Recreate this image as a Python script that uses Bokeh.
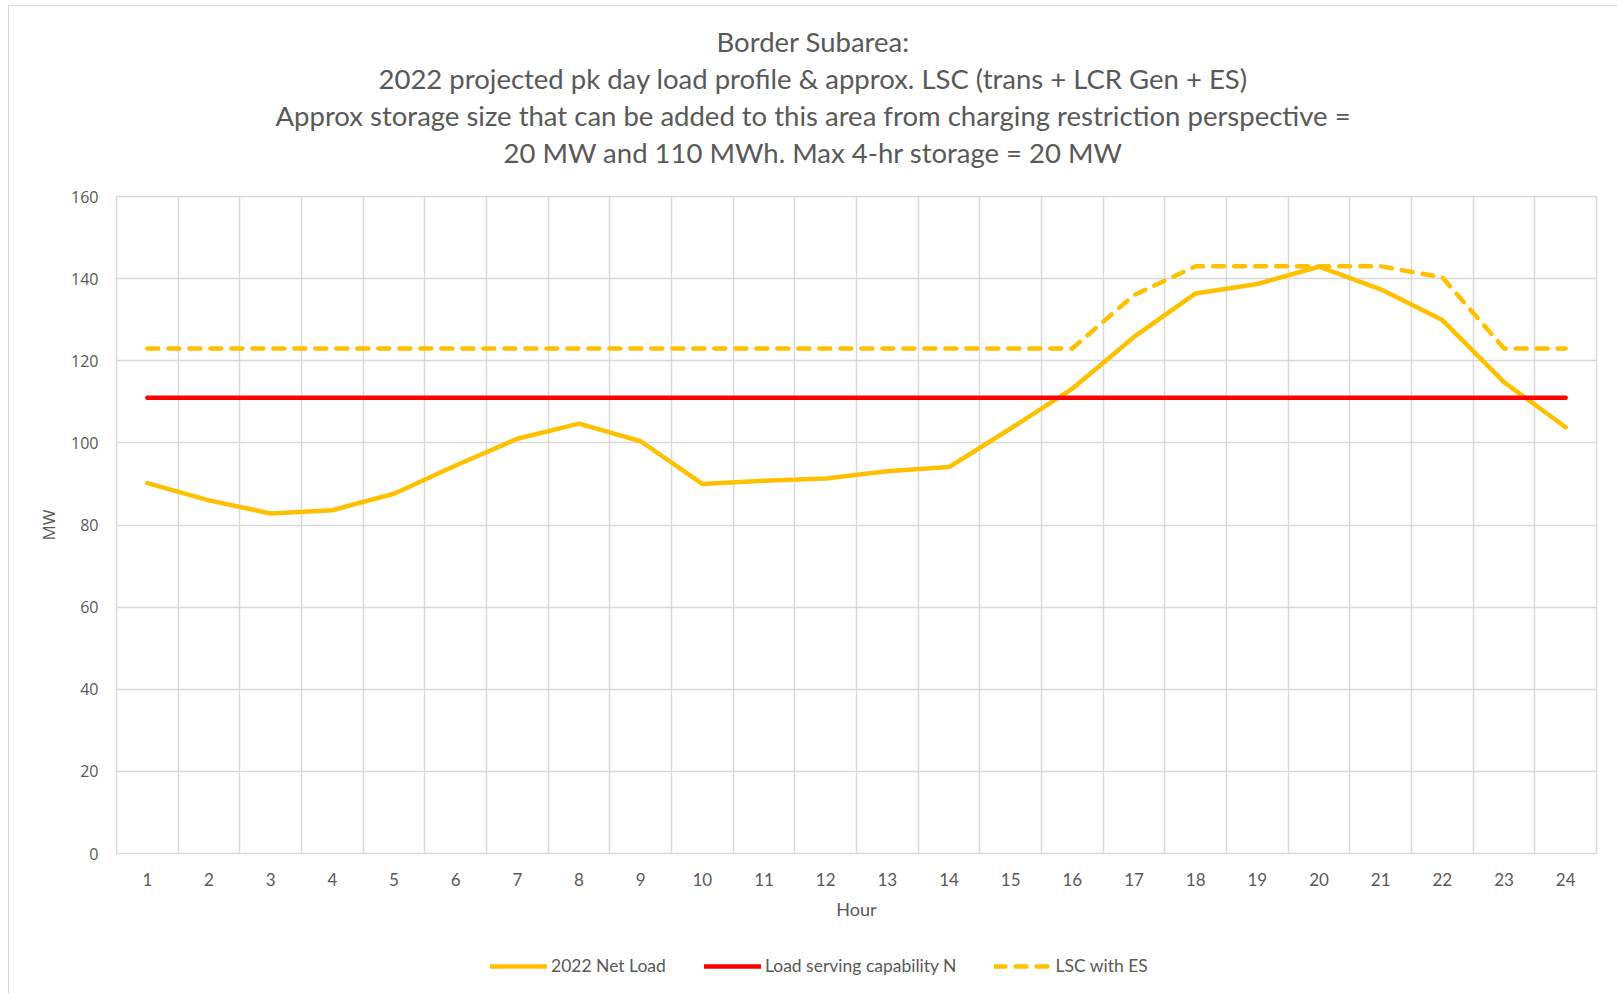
from bokeh.plotting import figure
from bokeh.layouts import column
from bokeh.models import Range1d, FixedTicker, Legend, LegendItem, Title
from bokeh.embed import file_html
from bokeh.resources import INLINE

hours = list(range(1, 25))
net_load = [90.2, 86.0, 82.8, 83.6, 87.6, 94.5, 101.0, 104.7, 100.4, 90.0, 90.8, 91.3,
            93.1, 94.1, 103.5, 113.2, 125.8, 136.4, 138.7, 142.9, 137.4, 129.9, 114.8, 103.8]
lsc_n = [111.0] * 24
lsc_es = [123.0] * 16 + [136.0, 143.0, 143.0, 143.0, 143.0, 140.3, 123.0, 123.0]
title_lines = ["Border Subarea:",
               "2022 projected pk day load profile & approx. LSC (trans + LCR Gen + ES)",
               "Approx storage size that can be added to this area from charging restriction perspective =",
               "20 MW and 110 MWh. Max 4-hr storage = 20 MW"]
series_names = ["2022 Net Load", "Load serving capability N", "LSC with ES"]

FONT = "Lato"
TXT = "#595959"
GRID = "#d9d9d9"
ORANGE = "#FFC000"
RED = "#FF0000"

p = figure(width=1608, height=918, output_backend="svg", toolbar_location=None,
           x_range=Range1d(0.5, 24.5), y_range=Range1d(0, 160),
           min_border_left=107, min_border_right=21, min_border_top=190, min_border_bottom=71)
p.outline_line_color = GRID
p.outline_line_width = 1.5

p.xaxis.ticker = FixedTicker(ticks=hours)
p.yaxis.ticker = FixedTicker(ticks=list(range(0, 161, 20)))
p.xgrid.ticker = FixedTicker(ticks=[h + 0.5 for h in range(0, 25)])
p.ygrid.ticker = FixedTicker(ticks=list(range(0, 161, 20)))
for g in (p.xgrid, p.ygrid):
    g.grid_line_color = GRID
    g.grid_line_width = 1.5

for ax in (p.xaxis, p.yaxis):
    ax.axis_line_color = None
    ax.major_tick_line_color = None
    ax.minor_tick_line_color = None
    ax.major_label_text_color = TXT
    ax.axis_label_text_font_style = "normal"
    ax.axis_label_text_color = TXT

p.xaxis.major_label_text_font = FONT
p.xaxis.major_label_text_font_size = "17px"
p.xaxis.axis_label_text_font = FONT
p.xaxis.axis_label_text_font_size = "18px"
p.yaxis.major_label_text_font = "Open Sans"
p.yaxis.major_label_text_font_size = "16px"
p.yaxis.axis_label_text_font = "Open Sans"
p.yaxis.axis_label_text_font_size = "17px"

p.xaxis.axis_label = "Hour"
p.yaxis.axis_label = "MW"
p.xaxis.major_label_standoff = 13
p.yaxis.major_label_standoff = 12
p.xaxis.axis_label_standoff = 9
p.yaxis.axis_label_standoff = 8

line_kw = [dict(line_color=ORANGE, line_width=4.5, line_join="round", line_cap="round"),
           dict(line_color=RED, line_width=4.5, line_cap="round"),
           dict(line_color=ORANGE, line_width=4.5, line_dash="11 10", line_cap="round",
                line_join="round")]
series = [net_load, lsc_n, lsc_es]
for ys, kw in zip(series, line_kw):
    p.line(hours, ys, **kw)

# spacer between plot frame and the title block
p.add_layout(Title(text=" ", text_font=FONT, text_font_size="21px", standoff=0), "above")
title_offsets = [600, 262, 159, 387]
for t, off in zip(reversed(title_lines), reversed(title_offsets)):
    p.add_layout(Title(text=t, align="left", offset=off, text_font=FONT, text_font_size="27.5px",
                       text_font_style="normal", text_color=TXT, standoff=1.5), "above")

# legend strip below the chart (its frame is aligned with the chart frame)
lg = figure(width=1608, height=69, output_backend="svg", toolbar_location=None,
            x_range=Range1d(0, 1), y_range=Range1d(0, 1),
            x_axis_location=None, y_axis_location=None,
            min_border_left=0, min_border_right=0, min_border_top=0, min_border_bottom=0)
lg.grid.visible = False
lg.outline_line_color = None
items = []
for name, ys, kw in zip(series_names, series, line_kw):
    r = lg.line(hours, ys, visible=False, **kw)
    items.append(LegendItem(label=name, renderers=[r]))
legend = Legend(items=items, orientation="horizontal", location=(374, 17),
                glyph_width=57, glyph_height=20, label_standoff=4, spacing=38,
                padding=0, margin=0, border_line_color=None, background_fill_alpha=0,
                label_text_font=FONT, label_text_font_size="17.5px", label_text_color=TXT)
lg.add_layout(legend, "center")

layout = column(p, lg, spacing=0)
layout.styles = {"margin-left": "8px", "margin-top": "5px",
                 "border-left": "1px solid #d9d9d9", "border-top": "1px solid #d9d9d9"}

open("out.html", "w").write(file_html(layout, INLINE))
